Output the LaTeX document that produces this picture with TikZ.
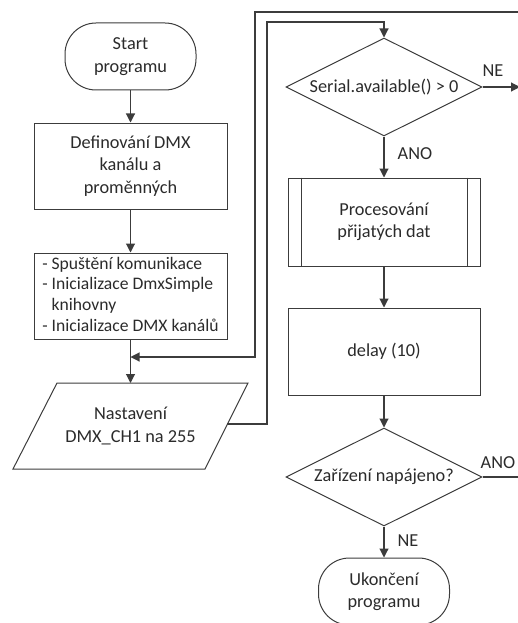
\documentclass[tikz,border=0pt]{standalone}
\usepackage{fontspec}
\setmainfont{Carlito}
\usetikzlibrary{arrows.meta,shapes.geometric}
\definecolor{ink}{HTML}{2B2B2B}
\definecolor{edge}{HTML}{3C3C3C}
\tikzset{
  base/.style={draw=edge, line width=1pt, text=ink, align=center, inner sep=0pt,
    font=\fontsize{18.3}{22.5}\selectfont},
  term/.style={base, minimum width=131pt, minimum height=67pt, rounded corners=31pt},
  procbox/.style={base, minimum width=193pt, minimum height=86pt},
  decision/.style={base, diamond, aspect=2, minimum width=196pt, minimum height=98pt},
  lbl/.style={text=ink, inner sep=0pt, font=\fontsize{18.3}{22.5}\selectfont},
  link/.style={draw=edge, line width=1.1pt},
  arr/.style={link, -{Triangle[length=9pt,width=9pt]}},
}
\begin{document}
\begin{tikzpicture}[x=1pt,y=-1pt]
\useasboundingbox (0,0) rectangle (518,623);
\clip (0,0) rectangle (518,623);

% ---- left column ----
\node[term] (start) at (130.5,56.5) {Start\\programu};
\node[procbox] (def) at (130.5,166) {Definování DMX\\kanálu a\\proměnných};
\node[procbox, font=\fontsize{17.6}{20.7}\selectfont] (init) at (130.5,296)
  {\begin{tabular}{@{}l@{\ }l@{}}
   - & Spuštění komunikace\\
   - & Inicializace DmxSimple\\
     & knihovny\\
   - & Inicializace DMX kanálů
   \end{tabular}};

% data (input/output) parallelogram
\draw[draw=edge, line width=1pt] (57,383) -- (248,383) -- (205,469) -- (13,469) -- cycle;
\node[lbl, align=center] (set) at (130.5,426) {Nastavení\\DMX\_CH1 na 255};
\coordinate (setN) at (130.5,383);
\coordinate (setE) at (227,424);

\coordinate (join) at (130.5,357);

% ---- right column ----
\node[decision] (avail) at (384,87) {Serial.available() > 0};
\node[procbox, minimum width=192pt, minimum height=88pt] (proc) at (384,222)
  {Procesování\\přijatých dat};
\draw[draw=edge, line width=1pt] ([xshift=14pt]proc.north west) -- ([xshift=14pt]proc.south west)
  ([xshift=-13pt]proc.north east) -- ([xshift=-13pt]proc.south east);
\node[procbox, minimum width=192pt, minimum height=87pt] (delay) at (384,351.5) {delay (10)};
\node[decision] (power) at (384,477) {Zařízení napájeno?};
\node[term] (stop) at (384,591.5) {Ukončení\\programu};

% branch labels
\node[lbl] (ne1) at (493,71) {NE};
\node[lbl] (ano1) at (415,154) {ANO};
\node[lbl] (ano2) at (498,463) {ANO};
\node[lbl] (ne2) at (408,541) {NE};

% ---- connectors ----
\draw[arr] (start) -- (def);
\draw[arr] (def) -- (init);
\draw[arr] (init.south) -- (setN);

\coordinate (innerTop) at (267,22);
\draw[arr] (setE) -| (innerTop) -| (avail.north);

\coordinate (outerIn) at (520,12);
\coordinate (outerTop) at (255,12);
\draw[arr] (outerIn) -- (outerTop) |- (join);

\coordinate (neOut) at (520,87);
\draw[arr] (avail.east) -- (neOut);
\draw[arr] (avail.south) -- (proc.north);
\draw[arr] (proc) -- (delay);
\draw[arr] (delay) -- (power);
\coordinate (anoOut) at (520,477);
\draw[link] (power.east) -- (anoOut);
\draw[arr] (power.south) -- (stop.north);
\end{tikzpicture}
\end{document}
